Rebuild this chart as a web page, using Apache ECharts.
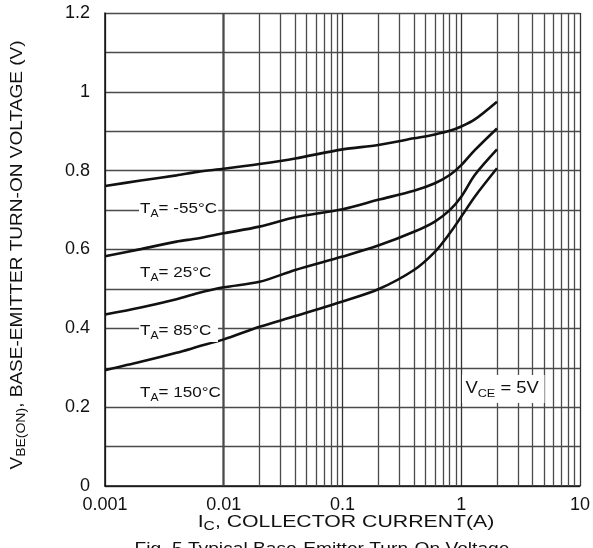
<!DOCTYPE html>
<html><head><meta charset="utf-8">
<script src="https://cdn.jsdelivr.net/npm/echarts@6/dist/echarts.min.js"></script>
<style>html,body{margin:0;padding:0;background:#fff}#c{width:593px;height:548px}</style>
</head><body><div id="c"></div>
<script>
// Collector current (A)
var currents = [0.001, 0.002, 0.004, 0.006, 0.01, 0.02, 0.04, 0.1, 0.2, 0.4, 0.6, 0.8, 1, 1.3, 2];
// VBE(ON) (V) per ambient temperature
var vbeM55 = [0.761, 0.775, 0.788, 0.797, 0.805, 0.817, 0.831, 0.854, 0.865, 0.882, 0.892, 0.901, 0.912, 0.930, 0.975];
var vbe25  = [0.583, 0.601, 0.620, 0.628, 0.641, 0.658, 0.682, 0.702, 0.726, 0.749, 0.768, 0.789, 0.814, 0.852, 0.907];
var vbe85  = [0.435, 0.453, 0.474, 0.489, 0.504, 0.518, 0.548, 0.582, 0.610, 0.645, 0.671, 0.700, 0.734, 0.789, 0.854];
var vbe150 = [0.294, 0.315, 0.338, 0.353, 0.372, 0.404, 0.431, 0.468, 0.499, 0.548, 0.594, 0.641, 0.683, 0.734, 0.806];
var seriesNames = ['TA=-55°C', 'TA=25°C', 'TA=85°C', 'TA=150°C'];
var yTickLabels = ['0', '0.2', '0.4', '0.6', '0.8', '1', '1.2'];
var xTickLabels = ['0.001', '0.01', '0.1', '1', '10'];
// minor log grid values (2..9 per decade)
var minorGrid = [];
[0.001, 0.01, 0.1, 1].forEach(function (d) { for (var k = 2; k <= 9; k++) minorGrid.push(+(d * k).toPrecision(3)); });

function pairs(ys) { return currents.map(function (x, i) { return [x, ys[i]]; }); }
var FONT = '"Liberation Sans", Arial, sans-serif';
var chart = echarts.init(document.getElementById('c'), null, { renderer: 'canvas' });
var gridColor = '#4a4a4a';
var lineStyle = { color: '#111', width: 2.6 };
function mkSeries(name, ys, extra) {
  var s = { name: name, type: 'line', data: pairs(ys), smooth: 0.3, symbol: 'none', lineStyle: lineStyle, z: 5, silent: true };
  if (extra) for (var k in extra) s[k] = extra[k];
  return s;
}
function richSet(mainSize, subSize, subPad) {
  return {
    m: { fontSize: mainSize, fontFamily: FONT, fill: '#111' },
    s: { fontSize: subSize, fontFamily: FONT, fill: '#111', padding: [subPad, 0, 0, 0] }
  };
}
function tempLabel(txt, left, top, padR) {
  return { type: 'text', left: left, top: top, z: 10, scaleX: 1.1, originX: 0,
    style: { text: txt, backgroundColor: '#fff', padding: [1, padR, 1, 1], rich: richSet(15.5, 11, 9) } };
}
var option = {
  animation: false,
  backgroundColor: '#fff',
  grid: { left: 105, right: 8, top: 13, bottom: 62, containLabel: false },
  xAxis: {
    type: 'log', logBase: 10, min: 0.001, max: 10,
    axisLine: { show: true, lineStyle: { color: '#111', width: 1.5 } },
    axisTick: { show: false },
    splitLine: { show: true, lineStyle: { color: '#333', width: 1.3 } },
    axisLabel: {
      color: '#111', fontSize: 18, fontFamily: FONT, margin: 10, showMaxLabel: true, showMinLabel: true,
      formatter: function (v) { var s = String(+v.toPrecision(3)); return xTickLabels.indexOf(s) >= 0 ? s : ''; }
    }
  },
  yAxis: {
    type: 'value', min: 0, max: 1.2, interval: 0.1,
    axisLine: { show: true, lineStyle: { color: '#111', width: 1.5 } },
    axisTick: { show: false },
    splitLine: { show: true, lineStyle: { color: gridColor, width: 1.3 } },
    axisLabel: {
      color: '#111', fontSize: 18, fontFamily: FONT, margin: 15,
      formatter: function (v) { var s = String(Math.round(v * 10) / 10); return yTickLabels.indexOf(s) >= 0 ? s : ''; }
    }
  },
  series: [
    mkSeries(seriesNames[0], vbeM55, {
      markLine: {
        silent: true, symbol: 'none', animation: false,
        label: { show: false },
        lineStyle: { color: gridColor, width: 1.3, type: 'solid' },
        data: minorGrid.map(function (v) { return { xAxis: v }; })
      }
    }),
    mkSeries(seriesNames[1], vbe25),
    mkSeries(seriesNames[2], vbe85),
    mkSeries(seriesNames[3], vbe150)
  ],
  graphic: [
    tempLabel('{m|T}{s|A}{m|= -55°C}', 139, 198, 1),
    tempLabel('{m|T}{s|A}{m|= 25°C}', 139, 262, 4),
    tempLabel('{m|T}{s|A}{m|= 85°C}', 139, 320, 6),
    tempLabel('{m|T}{s|A}{m|= 150°C}', 139, 382, 1),
    { type: 'text', left: 462, top: 375, z: 10, scaleX: 1.15, originX: 0,
      style: { text: '{m|V}{s|CE}{m| = 5V}', backgroundColor: '#fff', padding: [4, 5, 4, 3], rich: richSet(16, 11, 9) } },
    { type: 'text', x: 17, y: 255, rotation: Math.PI / 2, scaleX: 1.12, z: 10,
      style: { text: '{m|V}{s|BE(ON)}{m|, BASE-EMITTER TURN-ON VOLTAGE (V)}', align: 'center', verticalAlign: 'middle',
        rich: richSet(17, 12.5, 10) } },
    { type: 'text', x: 346, y: 522, scaleX: 1.25, z: 10,
      style: { text: '{m|I}{s|C}{m|, COLLECTOR CURRENT(A)}', align: 'center', verticalAlign: 'middle',
        rich: richSet(17, 12.5, 10) } },
    { type: 'text', x: 322, y: 550, scaleX: 1.2, z: 10,
      style: { text: 'Fig. 5 Typical Base-Emitter Turn-On Voltage', align: 'center', verticalAlign: 'middle', fontSize: 16, fontFamily: FONT, fill: '#111' } }
  ]
};
chart.setOption(option);
</script>
</body></html>
